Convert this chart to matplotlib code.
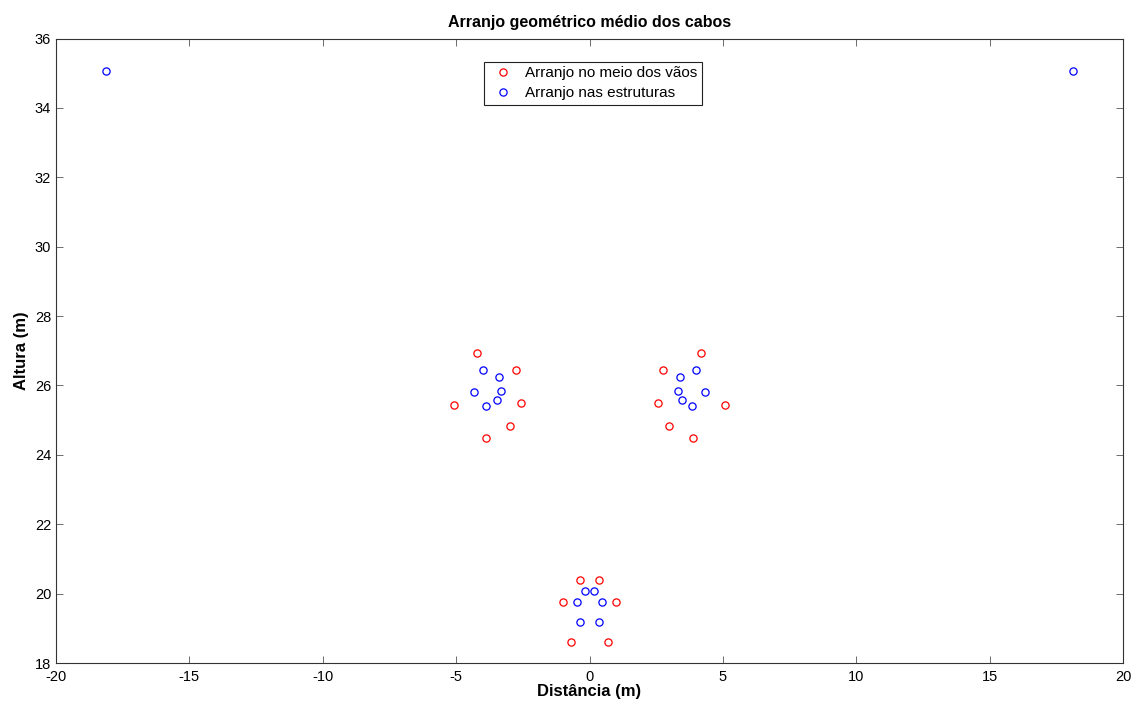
import matplotlib
matplotlib.use("Agg")
import matplotlib.pyplot as plt

plt.rcParams['font.family'] = ['Liberation Sans', 'DejaVu Sans']
plt.rcParams['axes.unicode_minus'] = False

# Arranjo no meio dos vãos (red)
meio_x = [-4.21, -2.75, -5.07, -2.57, -2.98, -3.89,
          4.19, 2.75, 2.58, 5.07, 2.97, 3.89,
          -0.35, 0.36, -1.00, 1.01, -0.69, 0.69]
meio_y = [26.95, 26.46, 25.45, 25.50, 24.82, 24.50,
          26.95, 26.46, 25.50, 25.45, 24.82, 24.50,
          20.40, 20.40, 19.77, 19.77, 18.60, 18.60]

# Arranjo nas estruturas (blue)
estr_x = [-3.99, -3.41, -4.33, -3.32, -3.46, -3.87,
          3.99, 3.41, 4.33, 3.31, 3.46, 3.86,
          -0.18, 0.16, -0.48, 0.48, -0.35, 0.36,
          -18.14, 18.12]
estr_y = [26.44, 26.23, 25.82, 25.85, 25.57, 25.42,
          26.44, 26.23, 25.82, 25.85, 25.57, 25.42,
          20.09, 20.09, 19.77, 19.77, 19.19, 19.19,
          35.07, 35.07]

xticks = [-20, -15, -10, -5, 0, 5, 10, 15, 20]
yticks = [18, 20, 22, 24, 26, 28, 30, 32, 34, 36]

fig = plt.figure(figsize=(11.36, 7.04), dpi=100)
ax = fig.add_axes([0.0493, 0.0582, 0.9393, 0.8871])

ax.plot(meio_x, meio_y, linestyle='none', marker='o', markersize=5.2,
        markerfacecolor='none', markeredgecolor='#ff0000', markeredgewidth=0.9,
        label='Arranjo no meio dos vãos')
ax.plot(estr_x, estr_y, linestyle='none', marker='o', markersize=5.2,
        markerfacecolor='none', markeredgecolor='#0000ff', markeredgewidth=0.9,
        label='Arranjo nas estruturas')

ax.set_xlim(-20, 20)
ax.set_ylim(18, 36)
ax.set_xticks(xticks)
ax.set_yticks(yticks)
ax.tick_params(direction='in', top=True, right=True, labelsize=10.5,
               length=5, width=0.6, color='#555555')
ax.tick_params(axis='x', pad=5)
for s in ax.spines.values():
    s.set_linewidth(0.8)
    s.set_color('#333333')

ax.set_title('Arranjo geométrico médio dos cabos', fontsize=11.5,
             fontweight='bold', pad=8)
ax.set_xlabel('Distância (m)', fontsize=12, fontweight='bold', labelpad=0)
ax.set_ylabel('Altura (m)', fontsize=12, fontweight='bold', labelpad=4)

leg = ax.legend(loc='upper center', bbox_to_anchor=(0.5035, 0.963),
                fontsize=11, fancybox=False, framealpha=1,
                edgecolor='#222222', handlelength=1.9, handletextpad=0.5,
                borderpad=0.3, labelspacing=0.4, numpoints=1,
                borderaxespad=0)
leg.get_frame().set_linewidth(0.8)

fig.savefig('out.png', dpi=100)
